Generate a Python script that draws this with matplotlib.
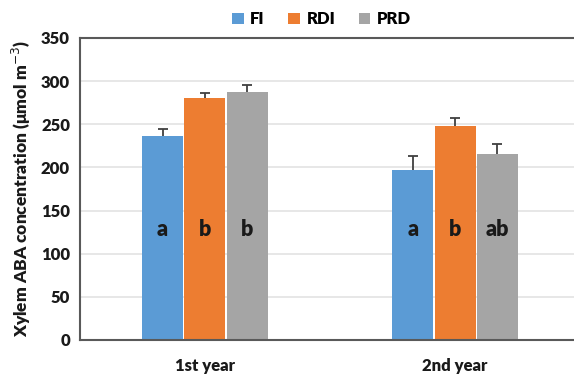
import numpy as np
import matplotlib.pyplot as plt

plt.rcParams['font.family'] = ['Lato', 'DejaVu Sans']

# data
years = ['1st year', '2nd year']
treatments = ['FI', 'RDI', 'PRD']
colors = ['#5b9bd5', '#ed7d31', '#a5a5a5']
means = {
    'FI': [236, 197],
    'RDI': [280, 248],
    'PRD': [287, 215],
}
errors = {
    'FI': [8, 16],
    'RDI': [6, 9],
    'PRD': [8, 12],
}
letters = {
    'FI': ['a', 'a'],
    'RDI': ['b', 'b'],
    'PRD': ['b', 'ab'],
}

fig = plt.figure(figsize=(5.74, 3.79), dpi=100)
ax = fig.add_axes([0.139, 0.103, 0.872, 0.797])

x = np.arange(len(years))
w = 0.164
gap = 0.005
for i, t in enumerate(treatments):
    pos = x + (i - 1) * (w + gap)
    ax.bar(pos, means[t], width=w, color=colors[i], label=t, zorder=2)
    # lower cap sits behind the bar, only the upper "T" shows
    ax.errorbar(pos, means[t], yerr=[np.full(len(years), 3), errors[t]],
                fmt='none', ecolor='#404040', elinewidth=1.3, capsize=3.5,
                capthick=1.3, zorder=1.5)
    for j, p in enumerate(pos):
        ax.text(p, 128, letters[t][j], ha='center', va='center',
                fontsize=15.5, fontweight='heavy', color='#1a1a1a', zorder=4)

ax.set_xlim(-0.5, 1.5)
ax.set_ylim(0, 350)
ax.set_yticks(np.arange(0, 351, 50))
ax.set_xticks(x)
ax.set_xticklabels(years)
ax.tick_params(axis='x', length=0, pad=13)
ax.tick_params(axis='y', length=0, pad=7)
for lab in ax.get_xticklabels() + ax.get_yticklabels():
    lab.set_fontweight('heavy')
    lab.set_fontsize(12)
    lab.set_color('#1a1a1a')

ax.grid(axis='y', color='#e3e3e3', linewidth=1.2, zorder=0)
ax.set_axisbelow(True)
for s in ax.spines.values():
    s.set_color('#595959')
    s.set_linewidth(1.5)

ax.set_ylabel('Xylem ABA concentration (μmol m$^{-3}$)', fontsize=12.5,
              fontweight='heavy', labelpad=6, color='#1a1a1a')

fig.legend(loc='upper center', bbox_to_anchor=(0.56, 1.01), ncol=3,
           frameon=False, prop={'weight': 'heavy', 'size': 12},
           handlelength=0.7, handleheight=0.7, handletextpad=0.4,
           columnspacing=1.4)

fig.savefig('out.png', dpi=100)
